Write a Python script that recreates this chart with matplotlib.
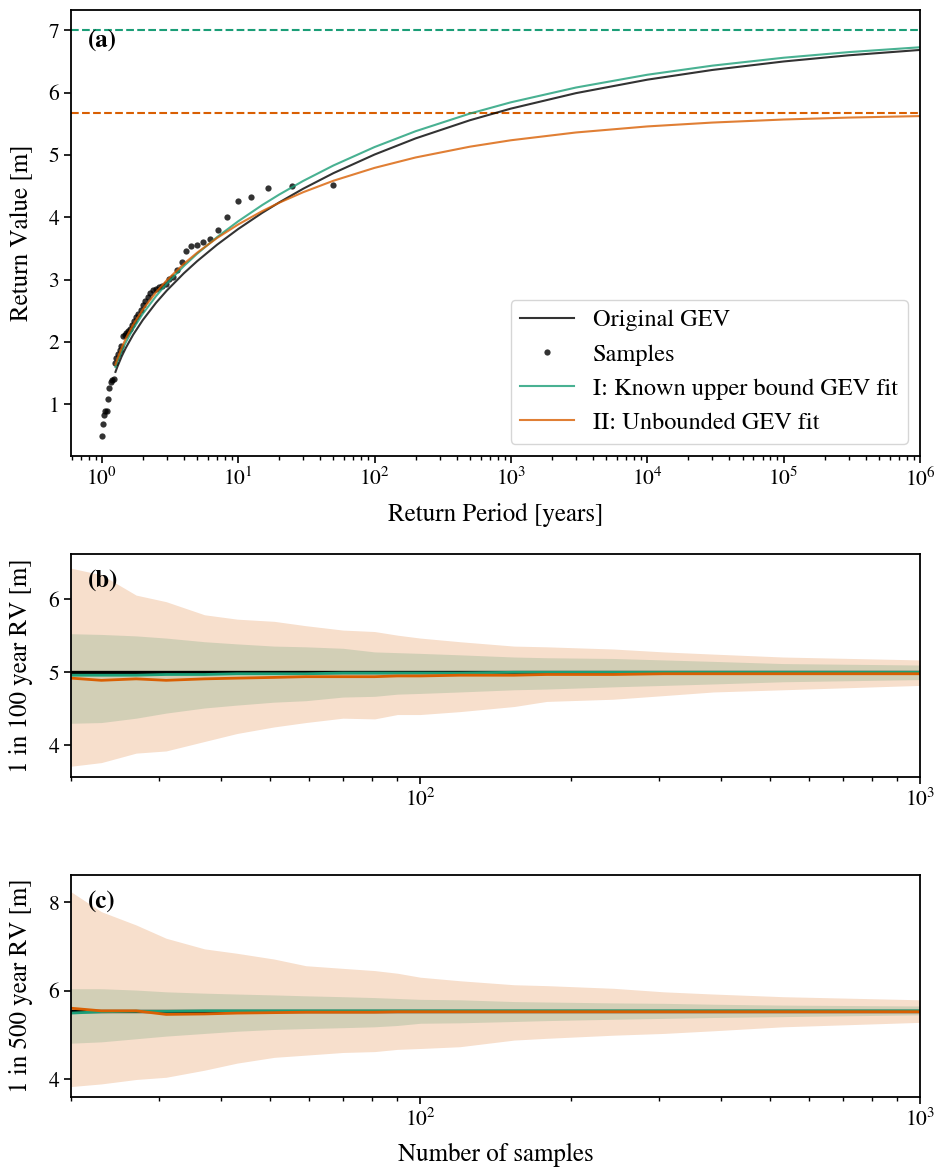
import numpy as np
import matplotlib
matplotlib.use("Agg")
import matplotlib.pyplot as plt
from matplotlib.ticker import NullFormatter

plt.rcParams['font.family'] = 'serif'
plt.rcParams['font.serif'] = ['STIXGeneral']
plt.rcParams['mathtext.fontset'] = 'stix'

# ---------------- data: panel (a) ----------------
sample_T = [50, 25, 16.67, 12.5, 10, 8.333, 7.143, 6.25, 5.556, 5,
            4.545, 4.167, 3.846, 3.571, 3.333, 3.125, 2.941, 2.778, 2.632, 2.5,
            2.381, 2.273, 2.174, 2.083, 2, 1.923, 1.852, 1.786, 1.724, 1.667,
            1.613, 1.5625, 1.515, 1.471, 1.429, 1.389, 1.351, 1.316, 1.282, 1.25,
            1.22, 1.19, 1.163, 1.136, 1.111, 1.087, 1.064, 1.042, 1.02, 1.0]
sample_v = [4.52, 4.50, 4.47, 4.33, 4.26, 4.01, 3.79, 3.66, 3.60, 3.56,
            3.54, 3.46, 3.29, 3.15, 3.05, 3.01, 2.93, 2.90, 2.88, 2.85,
            2.84, 2.78, 2.72, 2.66, 2.59, 2.52, 2.45, 2.40, 2.33, 2.27,
            2.21, 2.17, 2.14, 2.11, 2.09, 1.94, 1.87, 1.80, 1.74, 1.66,
            1.40, 1.39, 1.36, 1.26, 1.08, 0.90, 0.89, 0.83, 0.69, 0.49]

curve_T = [1.26, 1.3, 1.4, 1.5, 1.7, 2, 2.5, 3, 4, 5, 7, 10, 15, 20, 30, 50,
           100, 200, 500, 1e3, 3e3, 1e4, 3e4, 1e5, 3e5, 1e6]
orig_gev = [1.52, 1.60, 1.77, 1.905, 2.118, 2.353, 2.629, 2.826, 3.103, 3.296,
            3.560, 3.812, 4.071, 4.239, 4.459, 4.709, 5.007, 5.266, 5.557, 5.744,
            5.992, 6.208, 6.364, 6.500, 6.599, 6.685]
fit_bounded = [1.600, 1.682, 1.854, 1.994, 2.213, 2.454, 2.736, 2.937, 3.219, 3.415,
               3.682, 3.936, 4.196, 4.365, 4.584, 4.832, 5.127, 5.381, 5.664, 5.845,
               6.082, 6.287, 6.433, 6.560, 6.650, 6.728]
fit_unbounded = [1.638, 1.726, 1.908, 2.054, 2.279, 2.521, 2.798, 2.991, 3.254, 3.432,
                 3.668, 3.885, 4.099, 4.234, 4.403, 4.587, 4.793, 4.960, 5.133, 5.236,
                 5.361, 5.458, 5.520, 5.569, 5.600, 5.624]
bound_known = 7.0
bound_unbounded_fit = 5.68

# ---------------- data: panels (b), (c) ----------------
n_samples = [20, 23, 27, 31, 37, 43, 51, 59, 70, 81, 90, 100, 120, 154, 179, 243, 307, 386, 532, 1000]

true_rv100 = 5.007
b_orange_hi = [6.43, 6.34, 6.06, 5.97, 5.79, 5.73, 5.70, 5.64, 5.58, 5.56, 5.51, 5.47, 5.42, 5.36, 5.35, 5.32, 5.28, 5.25, 5.21, 5.17]
b_green_hi = [5.53, 5.52, 5.50, 5.47, 5.42, 5.39, 5.36, 5.35, 5.33, 5.28, 5.27, 5.26, 5.24, 5.21, 5.20, 5.19, 5.17, 5.15, 5.12, 5.10]
b_green_lo = [4.30, 4.31, 4.37, 4.44, 4.51, 4.55, 4.59, 4.61, 4.66, 4.67, 4.70, 4.71, 4.73, 4.76, 4.77, 4.80, 4.82, 4.84, 4.87, 4.90]
b_orange_lo = [3.71, 3.76, 3.89, 3.92, 4.05, 4.16, 4.25, 4.31, 4.37, 4.36, 4.42, 4.42, 4.46, 4.53, 4.60, 4.63, 4.68, 4.73, 4.76, 4.82]
b_green_med = [4.96, 4.96, 4.96, 4.97, 4.97, 4.98, 4.98, 4.98, 4.99, 4.99, 4.99, 4.99, 4.99, 5.00, 5.00, 5.00, 5.00, 5.00, 5.00, 5.00]
b_orange_med = [4.92, 4.89, 4.91, 4.89, 4.91, 4.92, 4.93, 4.94, 4.94, 4.94, 4.95, 4.95, 4.96, 4.96, 4.97, 4.97, 4.98, 4.98, 4.98, 4.98]

true_rv500 = 5.557
c_orange_hi = [8.24, 7.79, 7.49, 7.19, 6.95, 6.85, 6.72, 6.57, 6.51, 6.46, 6.40, 6.31, 6.23, 6.14, 6.12, 6.06, 5.98, 5.93, 5.87, 5.80]
c_green_hi = [6.05, 6.05, 6.02, 5.98, 5.95, 5.93, 5.91, 5.89, 5.87, 5.85, 5.83, 5.81, 5.80, 5.76, 5.75, 5.73, 5.72, 5.70, 5.68, 5.66]
c_green_lo = [4.82, 4.85, 4.92, 4.98, 5.04, 5.09, 5.13, 5.15, 5.17, 5.19, 5.22, 5.27, 5.28, 5.31, 5.33, 5.36, 5.38, 5.40, 5.42, 5.46]
c_orange_lo = [3.84, 3.90, 4.00, 4.05, 4.21, 4.37, 4.50, 4.55, 4.61, 4.63, 4.68, 4.70, 4.74, 4.89, 4.93, 5.00, 5.04, 5.10, 5.19, 5.29]
c_green_med = [5.50, 5.53, 5.54, 5.54, 5.55, 5.55, 5.55, 5.55, 5.55, 5.55, 5.55, 5.55, 5.55, 5.55, 5.55, 5.55, 5.55, 5.55, 5.55, 5.55]
c_orange_med = [5.61, 5.55, 5.55, 5.47, 5.48, 5.50, 5.51, 5.52, 5.52, 5.52, 5.53, 5.53, 5.53, 5.53, 5.53, 5.53, 5.53, 5.53, 5.53, 5.53]

GREEN = '#1b9e77'
ORANGE = '#d95f02'

TICK_FS = 15.5
LABEL_FS = 18
LEGEND_FS = 17.5
TAG_FS = 18
YLAB_X = -0.045

fig = plt.figure(figsize=(9.37, 11.68), dpi=100)
ax_a = fig.add_axes([0.0758, 0.6098, 0.9061, 0.3816])
ax_b = fig.add_axes([0.0758, 0.3350, 0.9061, 0.1907])
ax_c = fig.add_axes([0.0758, 0.0610, 0.9061, 0.1899])

for ax in (ax_a, ax_b, ax_c):
    for s in ax.spines.values():
        s.set_linewidth(1.3)
    ax.tick_params(which='major', length=5, width=1.2, labelsize=TICK_FS)
    ax.tick_params(which='minor', length=3, width=1.0)

# ---- panel (a)
ax_a.axhline(bound_known, color=GREEN, ls='--', lw=1.5)
ax_a.axhline(bound_unbounded_fit, color=ORANGE, ls='--', lw=1.5)
ax_a.plot(curve_T, orig_gev, color='black', alpha=0.8, lw=1.5, label='Original GEV')
ax_a.plot(sample_T, sample_v, 'o', color='black', alpha=0.8, ms=4.5, mew=0, label='Samples')
ax_a.plot(curve_T, fit_bounded, color=GREEN, alpha=0.8, lw=1.5, label='I: Known upper bound GEV fit')
ax_a.plot(curve_T, fit_unbounded, color=ORANGE, alpha=0.8, lw=1.5, label='II: Unbounded GEV fit')
ax_a.set_xscale('log')
ax_a.set_xlim(0.595, 1e6)
ax_a.set_ylim(0.175, 7.325)
ax_a.set_yticks([1, 2, 3, 4, 5, 6, 7])
ax_a.xaxis.set_minor_formatter(NullFormatter())
ax_a.set_xlabel('Return Period [years]', fontsize=LABEL_FS, labelpad=9)
ax_a.set_ylabel('Return Value [m]', fontsize=LABEL_FS)
ax_a.yaxis.set_label_coords(YLAB_X, 0.5)
ax_a.text(0.02, 0.955, '(a)', transform=ax_a.transAxes, fontsize=TAG_FS,
          fontweight='bold', va='top', ha='left')
ax_a.legend(loc='lower right', fontsize=LEGEND_FS, framealpha=0.8, handlelength=2.2)

# ---- panels (b), (c)
def band_panel(ax, true_val, o_hi, g_hi, g_lo, o_lo, g_med, o_med, ylim, yticks, ylabel, tag):
    ax.fill_between(n_samples, g_lo, g_hi, color=GREEN, alpha=0.2, lw=0)
    ax.fill_between(n_samples, o_lo, o_hi, color=ORANGE, alpha=0.2, lw=0)
    ax.axhline(true_val, color='black', lw=2.4)
    ax.plot(n_samples, g_med, color=GREEN, lw=2)
    ax.plot(n_samples, o_med, color=ORANGE, lw=2)
    ax.set_xscale('log')
    ax.set_xlim(20, 1000)
    ax.set_ylim(*ylim)
    ax.set_yticks(yticks)
    ax.xaxis.set_minor_formatter(NullFormatter())
    ax.set_ylabel(ylabel, fontsize=LABEL_FS)
    ax.yaxis.set_label_coords(YLAB_X, 0.5)
    ax.text(0.02, 0.93, tag, transform=ax.transAxes, fontsize=TAG_FS,
            fontweight='bold', va='top', ha='left')

band_panel(ax_b, true_rv100, b_orange_hi, b_green_hi, b_green_lo, b_orange_lo,
           b_green_med, b_orange_med, (3.566, 6.625), [4, 5, 6], '1 in 100 year RV [m]', '(b)')
band_panel(ax_c, true_rv500, c_orange_hi, c_green_hi, c_green_lo, c_orange_lo,
           c_green_med, c_orange_med, (3.61, 8.62), [4, 6, 8], '1 in 500 year RV [m]', '(c)')
ax_c.set_xlabel('Number of samples', fontsize=LABEL_FS, labelpad=9)

fig.savefig('out.png', dpi=100)
